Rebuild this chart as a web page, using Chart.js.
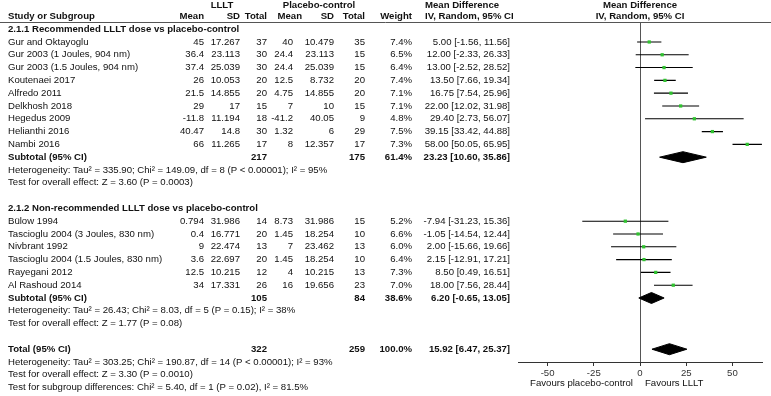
<!DOCTYPE html>
<html>
<head>
<meta charset="utf-8">
<script src="https://cdn.jsdelivr.net/npm/chart.js@4.4.1/dist/chart.umd.min.js"></script>
<style>
  body { margin: 0; background: #fff; }
  canvas { display: block; }
</style>
</head>
<body>
<canvas id="forestChart" width="771" height="396"></canvas>
<script>
// 그룹 제목
const groupTitles = ['2.1.1 Recommended LLLT dose vs placebo-control', '2.1.2 Non-recommended LLLT dose vs placebo-control'];

// 그룹 1: 권장 LLLT 용량
const group1Studies = ['Gur and Oktayoglu', 'Gur 2003 (1 Joules, 904 nm)', 'Gur 2003 (1.5 Joules, 904 nm)', 'Koutenaei 2017', 'Alfredo 2011', 'Delkhosh 2018', 'Hegedus 2009', 'Helianthi 2016', 'Nambi 2016'];
const group1LlltMean = [45, 36.4, 37.4, 26, 21.5, 29, -11.8, 40.47, 66];
const group1LlltSd = [17.267, 23.113, 25.039, 10.053, 14.855, 17, 11.194, 14.8, 11.265];
const group1LlltTotal = [37, 30, 30, 20, 20, 15, 18, 30, 17];
const group1PlaceboMean = [40, 24.4, 24.4, 12.5, 4.75, 7, -41.2, 1.32, 8];
const group1PlaceboSd = [10.479, 23.113, 25.039, 8.732, 14.855, 10, 40.05, 6, 12.357];
const group1PlaceboTotal = [35, 15, 15, 20, 20, 15, 9, 29, 17];
const group1Weight = [7.4, 6.5, 6.4, 7.4, 7.1, 7.1, 4.8, 7.5, 7.3];
const group1MD = [5.00, 12.00, 13.00, 13.50, 16.75, 22.00, 29.40, 39.15, 58.00];
const group1Low = [-1.56, -2.33, -2.52, 7.66, 7.54, 12.02, 2.73, 33.42, 50.05];
const group1High = [11.56, 26.33, 28.52, 19.34, 25.96, 31.98, 56.07, 44.88, 65.95];

// 그룹 2: 비권장 LLLT 용량
const group2Studies = ['Bülow 1994', 'Tascioglu 2004 (3 Joules, 830 nm)', 'Nivbrant 1992', 'Tascioglu 2004 (1.5 Joules, 830 nm)', 'Rayegani 2012', 'Al Rashoud 2014'];
const group2LlltMean = [0.794, 0.4, 9, 3.6, 12.5, 34];
const group2LlltSd = [31.986, 16.771, 22.474, 22.697, 10.215, 17.331];
const group2LlltTotal = [14, 20, 13, 20, 12, 26];
const group2PlaceboMean = [8.73, 1.45, 7, 1.45, 4, 16];
const group2PlaceboSd = [31.986, 18.254, 23.462, 18.254, 10.215, 19.656];
const group2PlaceboTotal = [15, 10, 13, 10, 13, 23];
const group2Weight = [5.2, 6.6, 6.0, 6.4, 7.3, 7.0];
const group2MD = [-7.94, -1.05, 2.00, 2.15, 8.50, 18.00];
const group2Low = [-31.23, -14.54, -15.66, -12.91, 0.49, 7.56];
const group2High = [15.36, 12.44, 19.66, 17.21, 16.51, 28.44];

// 소계 / 전체 (다이아몬드)
const summaryLabels = ['Subtotal (95% CI)', 'Subtotal (95% CI)', 'Total (95% CI)'];
const summaryLlltTotal = [217, 105, 322];
const summaryPlaceboTotal = [175, 84, 259];
const summaryWeight = [61.4, 38.6, 100.0];
const summaryMD = [23.23, 6.20, 15.92];
const summaryLow = [10.60, -0.65, 6.47];
const summaryHigh = [35.86, 13.05, 25.37];

// 이질성 / 검정 문구
const group1Notes = ['Heterogeneity: Tau² = 335.90; Chi² = 149.09, df = 8 (P < 0.00001); I² = 95%', 'Test for overall effect: Z = 3.60 (P = 0.0003)'];
const group2Notes = ['Heterogeneity: Tau² = 26.43; Chi² = 8.03, df = 5 (P = 0.15); I² = 38%', 'Test for overall effect: Z = 1.77 (P = 0.08)'];
const totalNotes = ['Heterogeneity: Tau² = 303.25; Chi² = 190.87, df = 14 (P < 0.00001); I² = 93%', 'Test for overall effect: Z = 3.30 (P = 0.0010)', 'Test for subgroup differences: Chi² = 5.40, df = 1 (P = 0.02), I² = 81.5%'];

// 축
const xTicks = [-50, -25, 0, 25, 50];
const favourLabels = ['Favours placebo-control', 'Favours LLLT'];

const FONT = '"Liberation Sans", Arial, sans-serif';
const TEXT = '#111';
const SQUARE_GREEN = '#2fc22f';

// 행 구성
const groups = [
  { title: groupTitles[0], names: group1Studies, lm: group1LlltMean, lsd: group1LlltSd, ln: group1LlltTotal,
    pm: group1PlaceboMean, psd: group1PlaceboSd, pn: group1PlaceboTotal, w: group1Weight, md: group1MD, lo: group1Low, hi: group1High, notes: group1Notes },
  { title: groupTitles[1], names: group2Studies, lm: group2LlltMean, lsd: group2LlltSd, ln: group2LlltTotal,
    pm: group2PlaceboMean, psd: group2PlaceboSd, pn: group2PlaceboTotal, w: group2Weight, md: group2MD, lo: group2Low, hi: group2High, notes: group2Notes }
];

const rows = [];      // 텍스트 행
const studyPoints = [];
const whiskerPoints = [];
const diamonds = [];
let r = 0;
groups.forEach((g, gi) => {
  rows.push({ row: r++, kind: 'title', text: g.title });
  g.names.forEach((name, i) => {
    rows.push({ row: r, kind: 'study', cells: [name, g.lm[i], g.lsd[i], g.ln[i], g.pm[i], g.psd[i], g.pn[i],
      g.w[i].toFixed(1) + '%', `${g.md[i].toFixed(2)} [${g.lo[i].toFixed(2)}, ${g.hi[i].toFixed(2)}]`] });
    studyPoints.push({ x: g.md[i], y: r });
    whiskerPoints.push({ x: g.lo[i], y: r }, { x: g.hi[i], y: r }, { x: null, y: null });
    r++;
  });
  rows.push({ row: r, kind: 'summary', idx: gi });
  diamonds.push({ idx: gi, row: r });
  r++;
  g.notes.forEach(t => rows.push({ row: r++, kind: 'note', text: t }));
  r++;
});
rows.push({ row: r, kind: 'summary', idx: 2 });
diamonds.push({ idx: 2, row: r });
r++;
totalNotes.forEach(t => rows.push({ row: r++, kind: 'note', text: t }));

function fmtSummary(i) {
  return [summaryLabels[i], '', '', summaryLlltTotal[i], '', '', summaryPlaceboTotal[i],
    summaryWeight[i].toFixed(1) + '%', `${summaryMD[i].toFixed(2)} [${summaryLow[i].toFixed(2)}, ${summaryHigh[i].toFixed(2)}]`];
}

// 열 위치 (x 픽셀, 정렬)
const cols = [
  { x: 8, align: 'left' }, { x: 204, align: 'right' }, { x: 240, align: 'right' }, { x: 267, align: 'right' },
  { x: 293, align: 'right' }, { x: 334, align: 'right' }, { x: 365, align: 'right' }, { x: 412, align: 'right' },
  { x: 510, align: 'right' }
];

// 데이터셋
const datasets = [
  { type: 'scatter', data: whiskerPoints, showLine: true, spanGaps: false, borderColor: '#000', borderWidth: 1.1, pointRadius: 0, order: 2 },
  { type: 'scatter', data: studyPoints, pointStyle: 'rect', pointRadius: 2.3, backgroundColor: SQUARE_GREEN, borderWidth: 0, order: 1 }
];
const DH = 0.43;
diamonds.forEach(d => {
  const i = d.idx;
  datasets.push({ type: 'scatter', showLine: true, pointRadius: 0, borderColor: '#000', borderWidth: 1, backgroundColor: '#000', fill: '+1', order: 0,
    data: [{ x: summaryLow[i], y: d.row }, { x: summaryMD[i], y: d.row - DH }, { x: summaryHigh[i], y: d.row }] });
  datasets.push({ type: 'scatter', showLine: true, pointRadius: 0, borderColor: '#000', borderWidth: 1, fill: false, order: 0,
    data: [{ x: summaryLow[i], y: d.row }, { x: summaryMD[i], y: d.row + DH }, { x: summaryHigh[i], y: d.row }] });
});

// 표 텍스트, 기준선 그리기
const tablePlugin = {
  id: 'tablePlugin',
  beforeDatasetsDraw(chart) {
    const { ctx, chartArea, scales } = chart;
    const x0 = Math.round(scales.x.getPixelForValue(0)) + 0.5;
    ctx.save();
    ctx.strokeStyle = '#555';
    ctx.lineWidth = 1;
    ctx.beginPath();
    ctx.moveTo(0, chartArea.top + 0.5);
    ctx.lineTo(chart.width, chartArea.top + 0.5);
    ctx.moveTo(x0, chartArea.top);
    ctx.lineTo(x0, chartArea.bottom);
    ctx.stroke();
    ctx.restore();
  },
  afterDraw(chart) {
    const { ctx, scales } = chart;
    const y = scales.y;
    ctx.save();
    ctx.fillStyle = TEXT;
    ctx.textBaseline = 'middle';
    const put = (text, x, yy, align, bold) => {
      ctx.font = (bold ? 'bold ' : '') + '9.6px ' + FONT;
      ctx.textAlign = align;
      ctx.fillText(String(text), x, yy);
    };
    // 헤더
    const h1 = y.getPixelForValue(-1.88), h2 = y.getPixelForValue(-1.03);
    put('LLLT', 222, h1, 'center', true);
    put('Placebo-control', 319, h1, 'center', true);
    put('Mean Difference', 425, h1, 'left', true);
    put('Mean Difference', scales.x.getPixelForValue(0), h1, 'center', true);
    put('Study or Subgroup', 8, h2, 'left', true);
    put('Mean', 204, h2, 'right', true);
    put('SD', 240, h2, 'right', true);
    put('Total', 267, h2, 'right', true);
    put('Mean', 302, h2, 'right', true);
    put('SD', 334, h2, 'right', true);
    put('Total', 365, h2, 'right', true);
    put('Weight', 412, h2, 'right', true);
    put('IV, Random, 95% CI', 425, h2, 'left', true);
    put('IV, Random, 95% CI', scales.x.getPixelForValue(0), h2, 'center', true);
    // 본문
    rows.forEach(row => {
      const yy = y.getPixelForValue(row.row);
      if (row.kind === 'title') put(row.text, 8, yy, 'left', true);
      else if (row.kind === 'note') put(row.text, 8, yy, 'left', false);
      else {
        const cells = row.kind === 'study' ? row.cells : fmtSummary(row.idx);
        cells.forEach((c, ci) => { if (c !== '') put(c, cols[ci].x, yy, cols[ci].align, row.kind === 'summary'); });
      }
    });
    // 하단 라벨
    const fy = chart.chartArea.bottom + 21.5;
    const zx = scales.x.getPixelForValue(0);
    put(favourLabels[0], zx - 7, fy, 'right', false);
    put(favourLabels[1], zx + 5, fy, 'left', false);
    ctx.restore();
  }
};

new Chart(document.getElementById('forestChart'), {
  type: 'scatter',
  data: { datasets },
  options: {
    responsive: false,
    animation: false,
    layout: { padding: { left: 518, right: 9, top: 22, bottom: 20 } },
    plugins: { legend: { display: false }, tooltip: { enabled: false } },
    scales: {
      x: {
        type: 'linear', min: -66, max: 66,
        afterBuildTicks: s => { s.ticks = xTicks.map(v => ({ value: v })); },
        afterFit: s => { s.height = 14; },
        grid: { drawOnChartArea: false, drawTicks: true, tickLength: 4, color: '#333' },
        border: { display: true, color: '#333' },
        ticks: { font: { size: 9.6, family: FONT }, color: '#333', padding: 1.5, maxRotation: 0 }
      },
      y: { type: 'linear', min: -0.56, max: 26.0, reverse: true, display: false }
    }
  },
  plugins: [tablePlugin]
});
</script>
</body>
</html>
